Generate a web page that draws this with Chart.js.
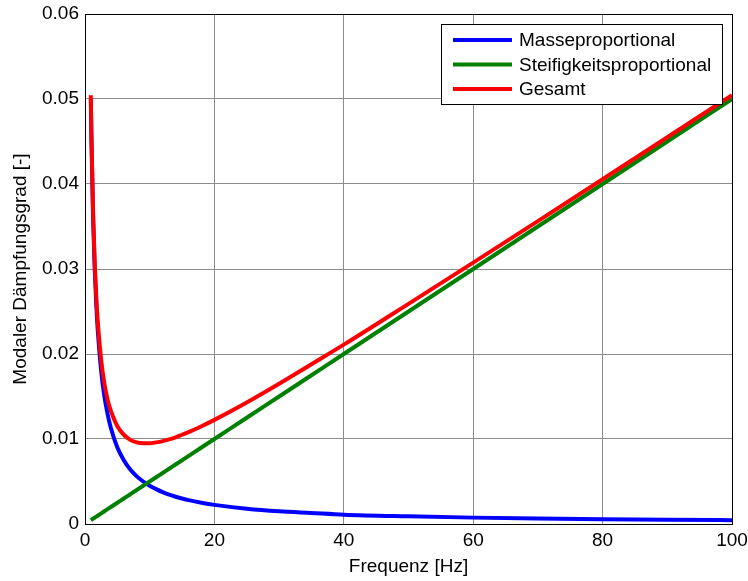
<!DOCTYPE html>
<html>
<head>
<meta charset="utf-8">
<script src="https://cdn.jsdelivr.net/npm/chart.js@4/dist/chart.umd.min.js"></script>
<style>
  body { margin: 0; background: #fff; }
  canvas { display: block; }
</style>
</head>
<body>
<canvas id="chart" width="748" height="581"></canvas>
<script>
// Frequenz [Hz]
const freq = [0.9, 1, 1.25, 1.5, 1.75, 2, 2.5, 3, 3.5, 4, 5, 6, 7, 8, 9, 10, 11, 12, 13, 14, 15, 16, 18, 20, 25, 30, 35, 40, 50, 60, 70, 80, 90, 100];

const masse = [0.05, 0.045, 0.036, 0.03, 0.0257, 0.0225, 0.018, 0.015, 0.0129, 0.0113, 0.009, 0.0075, 0.0064, 0.0056, 0.005, 0.0045, 0.0041, 0.00375, 0.00346, 0.00321, 0.003, 0.00281, 0.0025, 0.00225, 0.0018, 0.0015, 0.0013, 0.0011, 0.0009, 0.00075, 0.00064, 0.00056, 0.0005, 0.00045];

const steifigkeit = [0.00045, 0.0005, 0.000625, 0.00075, 0.000875, 0.001, 0.00125, 0.0015, 0.00175, 0.002, 0.0025, 0.003, 0.0035, 0.004, 0.0045, 0.005, 0.0055, 0.006, 0.0065, 0.007, 0.0075, 0.008, 0.009, 0.01, 0.0125, 0.015, 0.0175, 0.02, 0.025, 0.03, 0.035, 0.04, 0.045, 0.05];

const gesamt = [0.05045, 0.0455, 0.0366, 0.0308, 0.0266, 0.0235, 0.0193, 0.0165, 0.0146, 0.0133, 0.0115, 0.0105, 0.0099, 0.0096, 0.0095, 0.0095, 0.0096, 0.00975, 0.00996, 0.0102, 0.0105, 0.0108, 0.0115, 0.01225, 0.0143, 0.0165, 0.0188, 0.0211, 0.0259, 0.03075, 0.03564, 0.04056, 0.0455, 0.05045];

const seriesLabels = ['Masseproportional', 'Steifigkeitsproportional', 'Gesamt'];
const seriesColors = ['#0000ff', '#008000', '#ff0000'];

const xTicks = [0, 20, 40, 60, 80, 100];
const yTicks = [0, 0.01, 0.02, 0.03, 0.04, 0.05, 0.06];

const FONT = 'Liberation Sans, Arial, sans-serif';

function pts(ys) {
  return freq.map((f, i) => ({ x: f, y: ys[i] }));
}

// axes box like matlab
const boxPlugin = {
  id: 'box',
  afterDraw(chart) {
    const { ctx, chartArea: a } = chart;
    ctx.save();
    ctx.strokeStyle = '#000';
    ctx.lineWidth = 1;
    ctx.strokeRect(a.left + 0.5, a.top + 0.5, a.right - a.left, a.bottom - a.top);
    ctx.restore();
  }
};

// legend box in the upper right corner
const legendPlugin = {
  id: 'innerLegend',
  afterDatasetsDraw(chart) {
    const ctx = chart.ctx;
    const x = 441, y = 24, w = 281, h = 80;
    ctx.save();
    ctx.fillStyle = '#fff';
    ctx.fillRect(x, y, w, h);
    ctx.strokeStyle = '#000';
    ctx.lineWidth = 1;
    ctx.strokeRect(x + 0.5, y + 0.5, w, h);
    ctx.font = '19px ' + FONT;
    ctx.textBaseline = 'middle';
    ctx.fillStyle = '#000';
    seriesLabels.forEach((lab, i) => {
      const cy = 40 + i * 24.5;
      ctx.strokeStyle = seriesColors[i];
      ctx.lineWidth = 4;
      ctx.beginPath();
      ctx.moveTo(453, cy);
      ctx.lineTo(512, cy);
      ctx.stroke();
      ctx.fillText(lab, 519, cy + 1);
    });
    ctx.restore();
  }
};

const lineStyle = { borderWidth: 4, pointRadius: 0, fill: false, cubicInterpolationMode: 'monotone' };

new Chart(document.getElementById('chart'), {
  type: 'line',
  data: {
    datasets: [
      Object.assign({ label: seriesLabels[0], data: pts(masse), borderColor: seriesColors[0], order: 2 }, lineStyle),
      Object.assign({ label: seriesLabels[1], data: pts(steifigkeit), borderColor: seriesColors[1], order: 1 }, lineStyle),
      Object.assign({ label: seriesLabels[2], data: pts(gesamt), borderColor: seriesColors[2], order: 0 }, lineStyle)
    ]
  },
  options: {
    responsive: false,
    animation: false,
    devicePixelRatio: 1,
    layout: { padding: { top: 14, right: 16, left: 0, bottom: 0 } },
    plugins: {
      legend: { display: false },
      tooltip: { enabled: false }
    },
    scales: {
      x: {
        type: 'linear',
        min: 0,
        max: 100,
        afterFit(scale) {
          scale.height = 57;
          scale.paddingLeft = 0;
          scale.paddingRight = 0;
        },
        afterBuildTicks(scale) { scale.ticks = xTicks.map(v => ({ value: v })); },
        ticks: { color: '#000', font: { family: FONT, size: 19 }, padding: 5, maxRotation: 0 },
        grid: { color: '#8c8c8c', drawTicks: false },
        border: { color: '#000' },
        title: {
          display: true,
          text: 'Frequenz [Hz]',
          color: '#000',
          font: { family: FONT, size: 19 },
          padding: { top: 0, bottom: 3 }
        }
      },
      y: {
        type: 'linear',
        min: 0,
        max: 0.06,
        afterFit(scale) {
          scale.width = 85;
          scale.paddingTop = 0;
          scale.paddingBottom = 0;
        },
        afterBuildTicks(scale) { scale.ticks = yTicks.map(v => ({ value: v })); },
        ticks: {
          color: '#000',
          font: { family: FONT, size: 19 },
          padding: 6,
          callback: v => v === 0 ? '0' : v.toFixed(2)
        },
        grid: { color: '#8c8c8c', drawTicks: false },
        border: { color: '#000' },
        title: {
          display: true,
          text: 'Modaler Dämpfungsgrad [-]',
          color: '#000',
          font: { family: FONT, size: 19 },
          padding: { top: 9, bottom: 0 }
        }
      }
    }
  },
  plugins: [boxPlugin, legendPlugin]
});
</script>
</body>
</html>
